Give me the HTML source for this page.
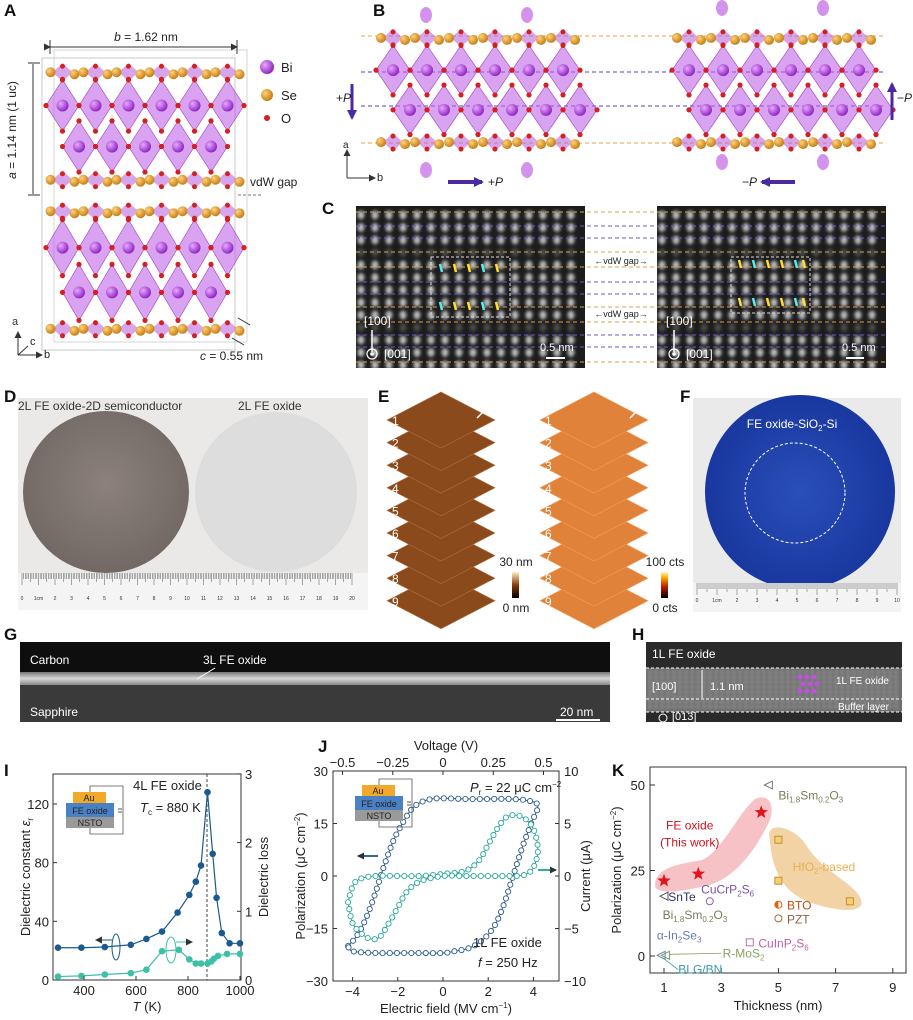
<!DOCTYPE html>
<html><head><meta charset="utf-8"><style>
html,body{margin:0;padding:0;background:#fff}
svg{display:block}
text{font-family:"Liberation Sans",Arial,sans-serif}
</style></head><body>
<svg id="s" width="913" height="1020" viewBox="0 0 913 1020" xmlns="http://www.w3.org/2000/svg">
<defs>
<radialGradient id="bi" cx="35%" cy="35%" r="70%"><stop offset="0" stop-color="#e9a8ff"/><stop offset="1" stop-color="#8a1fc0"/></radialGradient>
<radialGradient id="se" cx="35%" cy="35%" r="70%"><stop offset="0" stop-color="#ffd27a"/><stop offset="1" stop-color="#c27a10"/></radialGradient>
<radialGradient id="dk" cx="50%" cy="45%" r="60%"><stop offset="0" stop-color="#8c817c"/><stop offset="1" stop-color="#6f6662"/></radialGradient>
<radialGradient id="bl" cx="50%" cy="50%" r="60%"><stop offset="0" stop-color="#2a4fb8"/><stop offset="1" stop-color="#15339a"/></radialGradient>
<linearGradient id="cb1" x1="0" y1="1" x2="0" y2="0"><stop offset="0" stop-color="#000"/><stop offset=".5" stop-color="#8a3a0a"/><stop offset="1" stop-color="#fff0c0"/></linearGradient>
<linearGradient id="cb2" x1="0" y1="1" x2="0" y2="0"><stop offset="0" stop-color="#000"/><stop offset=".45" stop-color="#c02000"/><stop offset=".8" stop-color="#ffb000"/><stop offset="1" stop-color="#fff6c0"/></linearGradient>
<linearGradient id="band" x1="0" y1="0" x2="0" y2="1"><stop offset="0" stop-color="#777"/><stop offset=".5" stop-color="#d8d8d8"/><stop offset="1" stop-color="#888"/></linearGradient>
<filter id="blur"><feGaussianBlur stdDeviation="1.6"/></filter>
<marker id="ah" markerUnits="userSpaceOnUse" markerWidth="7" markerHeight="7" refX="6" refY="3.5" orient="auto"><path d="M0,0 L7,3.5 L0,7 z" fill="#333"/></marker>
<marker id="ahp" markerUnits="userSpaceOnUse" markerWidth="10" markerHeight="10" refX="8" refY="5" orient="auto"><path d="M0,0 L10,5 L0,10 z" fill="#4a2aa0"/></marker>
</defs>
<g id="root"></g>
</svg>
<script>
const NS="http://www.w3.org/2000/svg";const R=document.getElementById('root');
function el(t,a,p){const e=document.createElementNS(NS,t);for(const k in a)e.setAttribute(k,a[k]);(p||R).appendChild(e);return e;}
function tx(x,y,s,o){o=o||{};const e=el('text',Object.assign({x:x,y:y,'font-size':o.fs||12,fill:o.fill||'#222','text-anchor':o.anc||'start'},o.tr?{transform:o.tr}:{} ,o.fw?{'font-weight':o.fw}:{}));e.innerHTML=s;return e;}
const letters=[['A',4,16],['B',373,16],['C',322,214],['D',4,402],['E',378,402],['F',680,402],['G',4,640],['H',632,640],['I',4,776],['J',318,752],['K',612,776]];

function block(x0,y0,w,h,sp){
  sp=sp||32;
  const n=Math.round(w/sp);
  for(let r=0;r<2;r++){
    const cy=y0+h*(r?0.66:0.34);
    for(let i=0;i<n;i++){const cx=x0+sp/2+i*sp+(r?sp/2:0);if(cx>x0+w)continue;
      el('polygon',{points:`${cx},${cy-h*0.2} ${cx+sp/2},${cy} ${cx},${cy+h*0.2} ${cx-sp/2},${cy}`,fill:'#c266e8','fill-opacity':.6,stroke:'#9a40c0','stroke-width':.6});
    }
  }
  for(let r=0;r<2;r++){const cy=y0+h*(r?0.66:0.34);
    for(let i=0;i<n;i++){const cx=x0+sp/2+i*sp+(r?sp/2:0);if(cx>x0+w)continue;
      el('circle',{cx:cx,cy:cy,r:6,fill:'url(#bi)'});
      [[0,-h*0.2],[sp/2,0],[0,h*0.2],[-sp/2,0]].forEach(d=>el('circle',{cx:cx+d[0],cy:cy+d[1],r:2.6,fill:'#d42020'}));
    }}
  for(const fy of [0.08,0.92]){const cy=y0+h*fy;
    for(let i=0;i<n;i++){const cx=x0+sp/2+i*sp;
      el('polygon',{points:`${cx-10},${cy} ${cx},${cy-9} ${cx+10},${cy} ${cx},${cy+9}`,fill:'#b65bdc','fill-opacity':.55});
      el('circle',{cx:cx-12,cy:cy,r:5,fill:'url(#se)'});el('circle',{cx:cx+12,cy:cy+2,r:5,fill:'url(#se)'});
      el('circle',{cx:cx,cy:cy-6,r:2.5,fill:'#d42020'});el('circle',{cx:cx,cy:cy+7,r:2.5,fill:'#d42020'});
    }}
}
// Panel A
el('rect',{x:42,y:58,width:193,height:292,fill:'none',stroke:'#bbb','stroke-width':.8});
el('rect',{x:54,y:50,width:193,height:292,fill:'none',stroke:'#ccc','stroke-width':.8});
block(46,62,190,128,33);block(46,200,190,140,33);
el('line',{x1:50,y1:47,x2:237,y2:47,stroke:'#333','marker-end':'url(#ah)','marker-start':'url(#ah)'});
el('line',{x1:50,y1:40,x2:50,y2:54,stroke:'#333'});el('line',{x1:237,y1:40,x2:237,y2:54,stroke:'#333'});
tx(146,41,'<tspan font-style="italic">b</tspan> = 1.62 nm',{anc:'middle',fs:12});
el('line',{x1:28,y1:63,x2:40,y2:63,stroke:'#333'});el('line',{x1:28,y1:195,x2:40,y2:195,stroke:'#333'});
el('line',{x1:33,y1:64,x2:33,y2:194,stroke:'#333'});
tx(16,130,'<tspan font-style="italic">a</tspan> = 1.14 nm (1 uc)',{anc:'middle',fs:12,tr:'rotate(-90 16 130)'});
el('line',{x1:238,y1:195,x2:262,y2:195,stroke:'#777','stroke-dasharray':'3 2'});
tx(250,186,'vdW gap',{fs:12});
tx(200,360,'<tspan font-style="italic">c</tspan> = 0.55 nm',{fs:12});
el('line',{x1:238,y1:318,x2:250,y2:325,stroke:'#333'});el('line',{x1:232,y1:338,x2:244,y2:345,stroke:'#333'});
el('line',{x1:18,y1:355,x2:18,y2:332,stroke:'#333','marker-end':'url(#ah)'});
el('line',{x1:18,y1:355,x2:42,y2:355,stroke:'#333','marker-end':'url(#ah)'});
el('line',{x1:18,y1:355,x2:28,y2:346,stroke:'#333'});
tx(12,325,'a',{fs:11,fill:'#333'});tx(44,358,'b',{fs:11});tx(30,345,'c',{fs:11});
el('circle',{cx:267,cy:67,r:7,fill:'url(#bi)'});tx(281,72,'Bi',{fs:13});
el('circle',{cx:267,cy:95,r:6,fill:'url(#se)'});tx(281,100,'Se',{fs:13});
el('circle',{cx:267,cy:118,r:3,fill:'#d42020'});tx(281,123,'O',{fs:13});

// Panel B
[[36,'#e8a040'],[143,'#e8a040'],[72,'#5040c0'],[106,'#5040c0']].forEach(l=>el('line',{x1:361,y1:l[0],x2:886,y2:l[0],stroke:l[1],'stroke-dasharray':'4 3','stroke-width':1}));
block(376,28,204,124,34);block(672,28,208,124,34);
[[426,15],[527,15],[426,170],[527,170],[722,8],[823,8],[722,162],[823,162]].forEach(p=>{el('ellipse',{cx:p[0],cy:p[1],rx:6,ry:8,fill:'#c878e8','fill-opacity':.8});});
el('line',{x1:352,y1:84,x2:352,y2:118,stroke:'#4a2aa0','stroke-width':3,'marker-end':'url(#ahp)'});tx(336,102,'+<tspan font-style="italic">P</tspan>',{fs:12});
el('line',{x1:892,y1:120,x2:892,y2:84,stroke:'#4a2aa0','stroke-width':3,'marker-end':'url(#ahp)'});tx(897,102,'−<tspan font-style="italic">P</tspan>',{fs:12});
el('line',{x1:448,y1:182,x2:482,y2:182,stroke:'#4a2aa0','stroke-width':4,'marker-end':'url(#ahp)'});tx(488,186,'+<tspan font-style="italic">P</tspan>',{fs:12});
el('line',{x1:795,y1:182,x2:762,y2:182,stroke:'#4a2aa0','stroke-width':4,'marker-end':'url(#ahp)'});tx(742,186,'−<tspan font-style="italic">P</tspan>',{fs:12});
el('line',{x1:347,y1:178,x2:347,y2:150,stroke:'#333','marker-end':'url(#ah)'});el('line',{x1:347,y1:178,x2:375,y2:178,stroke:'#333','marker-end':'url(#ah)'});
tx(343,148,'a',{fs:10});tx(377,181,'b',{fs:11});

// Panel C
const rowsY=[212,226,238,252,267,282,294,307,322,335,347,362];
function stem(x0,x1){
  el('rect',{x:x0,y:206,width:x1-x0,height:162,fill:'#1c1c1c'});
  const g=el('g',{filter:'url(#blur)'});
  for(let y=215;y<368;y+=12.5){
    const gap=(y>248&&y<262)||(y>318&&y<331);
    for(let x=x0+5;x<x1;x+=14){el('ellipse',{cx:x,cy:y,rx:3.5,ry:4.5,fill:'#fff','fill-opacity':gap?0.2:0.7},g);}
  }
}
stem(356,585);stem(657,886);
rowsY.forEach((y,i)=>{const o=[0,3,4,7,8,11].includes(i);el('line',{x1:356,y1:y,x2:886,y2:y,stroke:o?'#d8a050':'#6a58d0','stroke-dasharray':'4 3','stroke-width':1});});
el('rect',{x:431,y:257,width:79,height:60,fill:'none',stroke:'#ddd','stroke-dasharray':'3 2'});
el('rect',{x:731,y:257,width:79,height:56,fill:'none',stroke:'#ddd','stroke-dasharray':'3 2'});
[[441,'#5ee'],[455,'#fd3'],[469,'#fd3'],[483,'#5ee'],[497,'#fd3']].forEach(a=>{[268,306].forEach(y=>el('line',{x1:a[0]-1,y1:y-4,x2:a[0]+1,y2:y+4,stroke:a[1],'stroke-width':2.5}));});
[[740,'#fd3'],[754,'#5ee'],[768,'#fd3'],[782,'#fd3'],[796,'#5ee'],[804,'#fd3']].forEach(a=>{[264,302].forEach(y=>el('line',{x1:a[0]-1,y1:y-4,x2:a[0]+1,y2:y+4,stroke:a[1],'stroke-width':2.5}));});
tx(621,264,'←vdW gap→',{fs:9,anc:'middle'});tx(621,317,'←vdW gap→',{fs:9,anc:'middle'});
[[372,0],[674,0]].forEach(p=>{const x=p[0];tx(x-8,325,'[100]',{fs:12,fill:'#fff'});el('line',{x1:x,y1:352,x2:x,y2:330,stroke:'#fff','stroke-width':1.5});el('circle',{cx:x,cy:354,r:5,fill:'none',stroke:'#fff','stroke-width':1.2});el('circle',{cx:x,cy:354,r:1.8,fill:'#fff'});tx(x+12,358,'[001]',{fs:12,fill:'#fff'});});
tx(540,351,'0.5 nm',{fs:11,fill:'#fff'});el('line',{x1:546,y1:358,x2:565,y2:358,stroke:'#fff','stroke-width':2});
tx(842,351,'0.5 nm',{fs:11,fill:'#fff'});el('line',{x1:846,y1:358,x2:864,y2:358,stroke:'#fff','stroke-width':2});

// Panel D
el('rect',{x:18,y:398,width:350,height:212,fill:'#ebe9e7'});
el('ellipse',{cx:106,cy:492,rx:83,ry:81,fill:'url(#dk)'});
el('ellipse',{cx:276,cy:492,rx:81,ry:80,fill:'#deddde'});
tx(18,410,'2L FE oxide-2D semiconductor',{fs:12,fill:'#333'});tx(238,410,'2L FE oxide',{fs:12,fill:'#333'});
function ruler(x0,x1,y0,h,n,step){el('rect',{x:x0,y:y0,width:x1-x0,height:h,fill:'#f4f4f4'});
  for(let i=0;i<=n*10;i++){const x=x0+4+i*step/10;if(x>x1)break;el('line',{x1:x,y1:y0,x2:x,y2:y0+(i%10==0?12:i%5==0?9:6),stroke:'#555','stroke-width':.5});}
  for(let i=0;i<=n;i++){tx(x0+4+i*step,y0+h-10,i==1?'1cm':''+i,{fs:5,anc:'middle',fill:'#333'});}}
ruler(18,368,573,37,20,16.5);

// Panel E
function stack(cx,fill,str){for(let i=8;i>=0;i--){const cy=420+i*22.6;
  el('polygon',{points:`${cx},${cy-28} ${cx+54},${cy} ${cx},${cy+28} ${cx-54},${cy}`,fill:fill,stroke:str,'stroke-width':.6});
  tx(cx-49,cy+5,''+(i+1),{fs:12,fill:'#fff'});}}
stack(441,'#8a4a1c','#b07040');stack(594,'#e0823a','#f0a060');
el('line',{x1:477,y1:418,x2:483,y2:412,stroke:'#fff','stroke-width':1.5});el('line',{x1:630,y1:418,x2:636,y2:412,stroke:'#fff','stroke-width':1.5});
el('rect',{x:512,y:572,width:7,height:26,fill:'url(#cb1)'});tx(516,566,'30 nm',{fs:12,anc:'middle'});tx(516,612,'0 nm',{fs:12,anc:'middle'});
el('rect',{x:661,y:572,width:7,height:26,fill:'url(#cb2)'});tx(665,566,'100 cts',{fs:12,anc:'middle'});tx(665,612,'0 cts',{fs:12,anc:'middle'});

// Panel F
el('rect',{x:693,y:398,width:208,height:214,fill:'#ebeaea'});
el('ellipse',{cx:800,cy:492,rx:95,ry:97,fill:'url(#bl)'});
el('ellipse',{cx:795,cy:493,rx:50,ry:50,fill:'none',stroke:'#fff','stroke-dasharray':'3 2','stroke-width':1});
ruler(693,901,583,29,10,20);
tx(792,428,'FE oxide-SiO<tspan font-size="8" dy="3">2</tspan><tspan dy="-3">-Si</tspan>',{fs:12,fill:'#fff',anc:'middle'});

// Panel G
el('rect',{x:20,y:642,width:590,height:80,fill:'#0e0e0e'});
el('rect',{x:20,y:685,width:590,height:37,fill:'#3a3a3a'});
el('rect',{x:20,y:672,width:590,height:13,fill:'url(#band)'});
tx(30,664,'Carbon',{fs:12,fill:'#fff'});tx(30,716,'Sapphire',{fs:12,fill:'#fff'});
tx(203,664,'3L FE oxide',{fs:12,fill:'#fff'});el('line',{x1:215,y1:668,x2:197,y2:679,stroke:'#fff'});
tx(560,716,'20 nm',{fs:12,fill:'#fff'});el('line',{x1:556,y1:720,x2:600,y2:720,stroke:'#fff','stroke-width':2});

// Panel H
el('rect',{x:646,y:642,width:256,height:80,fill:'#2a2a2a'});
el('rect',{x:646,y:668,width:256,height:44,fill:'#6e6e6e'});
const hg=el('g',{filter:'url(#blur)'});for(let y=672;y<712;y+=5)for(let x=650;x<900;x+=6)el('circle',{cx:x,cy:y,r:1.6,fill:'#bbb',opacity:.6},hg);
[668,699,712].forEach(y=>el('line',{x1:646,y1:y,x2:902,y2:y,stroke:'#fff','stroke-dasharray':'3 2'}));
tx(652,658,'1L FE oxide',{fs:12,fill:'#fff'});tx(836,684,'1L FE oxide',{fs:10,fill:'#fff'});tx(838,710,'Buffer layer',{fs:10,fill:'#fff'});
tx(710,690,'1.1 nm',{fs:11,fill:'#fff'});el('line',{x1:702,y1:670,x2:702,y2:698,stroke:'#fff'});
tx(652,690,'[100]',{fs:11,fill:'#fff'});tx(672,720,'[013]',{fs:11,fill:'#fff'});el('circle',{cx:663,cy:718,r:4,fill:'none',stroke:'#fff'});
for(let i=0;i<3;i++)for(let j=0;j<3;j++)el('circle',{cx:800+i*7+(j%2)*3,cy:677+j*7,r:2.5,fill:'#c050e0'});

letters.forEach(a=>tx(a[1],a[2],a[0],{fs:17,fw:'bold',fill:'#111'}));

// ===== Panel I =====
const iX=T=>84+(T-400)*0.26, iE=e=>980-e*1.467, iL=l=>980-l*68.7;
function axesBox(x0,y0,x1,y1){el('rect',{x:x0,y:y0,width:x1-x0,height:y1-y0,fill:'none',stroke:'#333','stroke-width':1});}
function smooth(pts){let d=`M${pts[0][0]},${pts[0][1]}`;for(let i=0;i<pts.length-1;i++){const p0=pts[i-1]||pts[i],p1=pts[i],p2=pts[i+1],p3=pts[i+2]||p2;
  d+=` C${p1[0]+(p2[0]-p0[0])/6},${p1[1]+(p2[1]-p0[1])/6} ${p2[0]-(p3[0]-p1[0])/6},${p2[1]-(p3[1]-p1[1])/6} ${p2[0]},${p2[1]}`;}return d;}
axesBox(53,774,241,980);
const eps=[[300,22],[390,22],[480,22.5],[580,24],[640,28],[700,33],[760,46],[805,58],[830,67],[850,78],[875,128],[895,86],[910,56],[930,32],[960,25],[1000,25]];
const los=[[300,.05],[390,.06],[480,.08],[580,.1],[640,.15],[700,.42],[765,.44],[805,.3],[830,.24],[850,.24],[875,.24],[890,.27],[900,.31],[915,.35],[950,.38],[1000,.38]];
el('line',{x1:207,y1:774,x2:207,y2:980,stroke:'#444','stroke-dasharray':'3 2'});
const pe=eps.map(p=>[iX(p[0]),iE(p[1])]), pl=los.map(p=>[iX(p[0]),iL(p[1])]);
el('polyline',{points:pe.join(' '),fill:'none',stroke:'#1a5a8e','stroke-width':1.2});
el('polyline',{points:pl.join(' '),fill:'none',stroke:'#3cc0a8','stroke-width':1.2});
pe.forEach(p=>el('circle',{cx:p[0],cy:p[1],r:3.3,fill:'#1a5a8e'}));pl.forEach(p=>el('circle',{cx:p[0],cy:p[1],r:3.3,fill:'#3cc0a8'}));
[[0,'0'],[40,'40'],[80,'80'],[120,'120']].forEach(t=>{const y=iE(t[0]);el('line',{x1:53,y1:y,x2:57,y2:y,stroke:'#333'});tx(49,y+5,t[1],{fs:13,anc:'end'});});
[0,1,2,3].forEach(t=>{const y=iL(t);el('line',{x1:237,y1:y,x2:241,y2:y,stroke:'#333'});tx(245,y+5,''+t,{fs:13});});
[400,600,800,1000].forEach(t=>{const x=iX(t);el('line',{x1:x,y1:976,x2:x,y2:980,stroke:'#333'});tx(x,995,''+t,{fs:13,anc:'middle'});});
tx(147,1011,'<tspan font-style="italic">T</tspan> (K)',{fs:13,anc:'middle'});
tx(30,877,'Dielectric constant  <tspan font-style="italic">ε</tspan><tspan font-size="8" dy="3">r</tspan>',{fs:13,anc:'middle',tr:'rotate(-90 30 877)'});
tx(268,877,'Dielectric loss',{fs:13,anc:'middle',tr:'rotate(-90 268 877)'});
function inset(x,y){el('polyline',{points:`${x+24},${y} ${x+24},${y-6} ${x+57},${y-6} ${x+57},${y+42} ${x+24},${y+42} ${x+24},${y+36}`,fill:'none',stroke:'#555','stroke-width':.8});
 el('rect',{x:x+7,y:y,width:33,height:11,fill:'#f2a92a'});el('rect',{x:x,y:y+11,width:48,height:14,fill:'#4a80c4'});el('rect',{x:x,y:y+25,width:48,height:11,fill:'#9a9a9a'});
 tx(x+23,y+9,'Au',{fs:9,anc:'middle'});tx(x+24,y+22,'FE oxide',{fs:9,anc:'middle'});tx(x+24,y+34,'NSTO',{fs:9,anc:'middle'});
 el('line',{x1:x+52,y1:y+17,x2:x+56,y2:y+17,stroke:'#555'});el('line',{x1:x+52,y1:y+20,x2:x+56,y2:y+20,stroke:'#555'});}
inset(66,792);
tx(133,790,'4L FE oxide',{fs:13});tx(140,812,'<tspan font-style="italic">T</tspan><tspan font-size="8" dy="3">c</tspan><tspan dy="-3"> = 880 K</tspan>',{fs:13});
el('ellipse',{cx:116,cy:947,rx:4,ry:13,fill:'none',stroke:'#1a5a8e'});el('line',{x1:112,y1:940,x2:96,y2:940,stroke:'#1a5a8e','marker-end':'url(#ah)'});
el('ellipse',{cx:171,cy:950,rx:5,ry:13,fill:'none',stroke:'#3cc0a8'});el('line',{x1:176,y1:942,x2:192,y2:942,stroke:'#3cc0a8','marker-end':'url(#ah)'});

// ===== Panel J =====
const jx=E=>443+E*22.6, jy=P=>876-P*3.5;
axesBox(333,771,559,981);
[30,15,0,-15,-30].forEach(t=>{const y=jy(t);el('line',{x1:333,y1:y,x2:337,y2:y,stroke:'#333'});tx(328,y+5,t<0?'−'+(-t):''+t,{fs:13,anc:'end'});});
[10,5,0,-5,-10].forEach(t=>{const y=jy(t*3);el('line',{x1:555,y1:y,x2:559,y2:y,stroke:'#333'});tx(564,y+5,t<0?'−'+(-t):''+t,{fs:13});});
[-4,-2,0,2,4].forEach(t=>{const x=jx(t);el('line',{x1:x,y1:977,x2:x,y2:981,stroke:'#333'});tx(x,996,t<0?'−'+(-t):''+t,{fs:13,anc:'middle'});});
[[-0.5,'−0.5'],[-0.25,'−0.25'],[0,'0'],[0.25,'0.25'],[0.5,'0.5']].forEach(t=>{const x=443+t[0]*201;el('line',{x1:x,y1:771,x2:x,y2:775,stroke:'#333'});tx(x,767,t[1],{fs:13,anc:'middle'});});
tx(446,750,'Voltage (V)',{fs:13,anc:'middle'});tx(446,1013,'Electric field (MV cm<tspan font-size="8" dy="-5">−1</tspan><tspan dy="5">)</tspan>',{fs:13,anc:'middle'});
tx(305,876,'Polarization (μC cm<tspan font-size="8" dy="-5">−2</tspan><tspan dy="5">)</tspan>',{fs:13,anc:'middle',tr:'rotate(-90 305 876)'});
tx(590,876,'Current (μA)',{fs:13,anc:'middle',tr:'rotate(-90 590 876)'});
const blue=[[-4.2,-20],[-3.8,-17],[-3.4,-12],[-3,-5],[-2.6,3],[-2.2,10],[-1.8,15],[-1.4,19],[-1,21],[-0.5,22],[0,22.2],[1,22],[2,22],[3,22],[3.8,21.5],[4.2,20],[3.9,15],[3.5,8],[3.1,0],[2.7,-8],[2.3,-14],[1.8,-18],[1.2,-20.5],[0.5,-21.5],[0,-22],[-1,-22],[-2,-22],[-3,-22],[-4,-21.5],[-4.2,-20]];
const cur=[[-4.2,-2.5],[-4,-1],[-3.7,-0.3],[-3,0],[-2,0],[-1,0],[0,0.2],[1,0.5],[1.6,1.5],[2,3],[2.4,4.5],[2.8,5.6],[3.2,5.8],[3.6,5.5],[4,4.5],[4.2,2.5],[4,0.8],[3.6,0.1],[3,0],[2,0],[1,0],[0,0],[-1,-0.5],[-1.6,-1.5],[-2,-3],[-2.4,-4.5],[-2.8,-5.8],[-3.2,-6],[-3.6,-5.5],[-4,-4.5],[-4.2,-2.5]];
function loop(pts,col,step){const P=pts.map(p=>[jx(p[0]),jy(p[1])]);const path=el('path',{d:smooth(P),fill:'none',stroke:col,'stroke-width':1});
  const L=path.getTotalLength();for(let s=0;s<L;s+=step){const q=path.getPointAtLength(s);el('circle',{cx:q.x,cy:q.y,r:2.6,fill:'#fff',stroke:col,'stroke-width':.9});}}
loop(blue,'#2c5a8c',7.2);loop(cur.map(p=>[p[0],p[1]*3]),'#2aa898',7.2);
inset(355,785);
tx(470,792,'<tspan font-style="italic">P</tspan><tspan font-size="8" dy="3">r</tspan><tspan dy="-3"> = 22 μC cm</tspan><tspan font-size="8" dy="-5">−2</tspan>',{fs:13});
tx(473,947,'1L FE oxide',{fs:13});tx(478,967,'<tspan font-style="italic">f</tspan> = 250 Hz',{fs:13});
el('line',{x1:378,y1:856,x2:358,y2:856,stroke:'#2c6a9c','stroke-width':2,'marker-end':'url(#ah)'});
el('line',{x1:538,y1:870,x2:556,y2:870,stroke:'#2ab0a0','stroke-width':2,'marker-end':'url(#ah)'});

// ===== Panel K =====
const kx=t=>664+(t-1)*28.6, ky=P=>956-P*3.42;
axesBox(650,767,906,973);
el('path',{d:`M${kx(0.7)},${ky(20)} C${kx(0.6)},${ky(26)} ${kx(1.6)},${ky(27)} ${kx(2.3)},${ky(28)} C${kx(3)},${ky(30)} ${kx(3.6)},${ky(42)} ${kx(4.2)},${ky(46)} C${kx(4.8)},${ky(48)} ${kx(4.9)},${ky(42)} ${kx(4.6)},${ky(38)} C${kx(4)},${ky(28)} ${kx(3.2)},${ky(21)} ${kx(2.2)},${ky(20)} C${kx(1.6)},${ky(19)} ${kx(0.9)},${ky(18)} ${kx(0.7)},${ky(20)} Z`,fill:'#f6c2c6'});
el('path',{d:`M${kx(4.7)},${ky(34)} C${kx(4.5)},${ky(40)} ${kx(5.6)},${ky(38)} ${kx(6)},${ky(32)} C${kx(6.6)},${ky(24)} ${kx(8)},${ky(20)} ${kx(7.9)},${ky(15)} C${kx(7.7)},${ky(12)} ${kx(6.6)},${ky(14)} ${kx(6)},${ky(16)} C${kx(5.2)},${ky(19)} ${kx(4.8)},${ky(24)} ${kx(4.7)},${ky(34)} Z`,fill:'#f1d3a6'});
[50,25,0].forEach(t=>{const y=ky(t);el('line',{x1:650,y1:y,x2:655,y2:y,stroke:'#333'});tx(645,y+5,''+t,{fs:13,anc:'end'});});
[1,3,5,7,9].forEach(t=>{const x=kx(t);el('line',{x1:x,y1:968,x2:x,y2:973,stroke:'#333'});tx(x,992,''+t,{fs:13,anc:'middle'});});
tx(778,1010,'Thickness (nm)',{fs:13,anc:'middle'});
tx(621,870,'Polarization (μC cm<tspan font-size="8" dy="-5">−2</tspan><tspan dy="5">)</tspan>',{fs:13,anc:'middle',tr:'rotate(-90 621 870)'});
function star(cx,cy,r){let p=[];for(let i=0;i<10;i++){const a=-Math.PI/2+i*Math.PI/5,rr=i%2?r*0.42:r;p.push((cx+rr*Math.cos(a)).toFixed(1)+','+(cy+rr*Math.sin(a)).toFixed(1));}el('polygon',{points:p.join(' '),fill:'#e0141e'});}
[[1,22],[2.2,24],[4.4,42]].forEach(p=>star(kx(p[0]),ky(p[1]),7));
function tri(cx,cy,c){el('polygon',{points:`${cx-4},${cy} ${cx+4},${cy-4} ${cx+4},${cy+4}`,fill:'none',stroke:c});}
tri(kx(4.65),ky(50),'#777');tri(kx(1),ky(17.5),'#555');tri(kx(0.9),ky(0.2),'#5a8aa8');tri(kx(1.05),ky(0.2),'#7a9a6a');
function sq(cx,cy,c,f){el('rect',{x:cx-3.5,y:cy-3.5,width:7,height:7,fill:f||'none',stroke:c});}
[[5,34],[5,22],[7.5,16]].forEach(p=>sq(kx(p[0]),ky(p[1]),'#c09030','#f6d070'));
sq(kx(4),ky(4),'#c070b0');
el('circle',{cx:kx(2.6),cy:ky(16),r:3.5,fill:'none',stroke:'#9060b0'});
el('circle',{cx:kx(5),cy:ky(11),r:3.5,fill:'none',stroke:'#a07040'});
el('circle',{cx:kx(5),cy:ky(15),r:3.5,fill:'#fff',stroke:'#e06010'});el('path',{d:`M${kx(5)},${ky(15)-3.5} A3.5,3.5 0 0 0 ${kx(5)},${ky(15)+3.5} Z`,fill:'#e06010'});
tx(kx(5.0),ky(47)+4,'Bi<tspan font-size="8" dy="3">1.8</tspan><tspan dy="-3">Sm</tspan><tspan font-size="8" dy="3">0.2</tspan><tspan dy="-3">O</tspan><tspan font-size="8" dy="3">3</tspan>',{fs:12,fill:'#7a7a5a'});
tx(kx(1.9),ky(37),'FE oxide',{fs:12,fill:'#d01020',anc:'middle'});tx(kx(1.9),ky(32),'(This work)',{fs:12,fill:'#d01020',anc:'middle'});
tx(kx(5.5),ky(26)+4,'HfO<tspan font-size="8" dy="3">2</tspan><tspan dy="-3">-based</tspan>',{fs:12,fill:'#e8b050'});
tx(kx(1.15),ky(17.5)+5,'SnTe',{fs:12,fill:'#303070'});
tx(kx(2.3),ky(19.5)+4,'CuCrP<tspan font-size="8" dy="3">2</tspan><tspan dy="-3">S</tspan><tspan font-size="8" dy="3">6</tspan>',{fs:12,fill:'#8050b0'});
tx(kx(0.95),ky(12)+4,'Bi<tspan font-size="8" dy="3">1.8</tspan><tspan dy="-3">Sm</tspan><tspan font-size="8" dy="3">0.2</tspan><tspan dy="-3">O</tspan><tspan font-size="8" dy="3">3</tspan>',{fs:12,fill:'#7a7a5a'});
tx(kx(5.3),ky(15)+5,'BTO',{fs:12,fill:'#c05010'});tx(kx(5.3),ky(11)+5,'PZT',{fs:12,fill:'#906040'});
tx(kx(4.3),ky(4)+5,'CuInP<tspan font-size="8" dy="3">2</tspan><tspan dy="-3">S</tspan><tspan font-size="8" dy="3">6</tspan>',{fs:12,fill:'#c060a0'});
tx(kx(0.75),ky(6)+4,'α-In<tspan font-size="8" dy="3">2</tspan><tspan dy="-3">Se</tspan><tspan font-size="8" dy="3">3</tspan>',{fs:12,fill:'#6a7ab0'});
tx(kx(3.05),ky(0.8)+4,'R-MoS<tspan font-size="8" dy="3">2</tspan>',{fs:12,fill:'#8aa060'});
el('line',{x1:kx(1.2),y1:ky(0.5),x2:kx(3),y2:ky(0.8),stroke:'#8aa060','stroke-width':.8});
tx(kx(1.5),ky(-4)+4,'BLG/BN',{fs:12,fill:'#3a9ab0'});
el('line',{x1:kx(0.95),y1:ky(-0.5),x2:kx(1.5),y2:ky(-4),stroke:'#3a9ab0','stroke-width':.8});
</script>
</body></html>
